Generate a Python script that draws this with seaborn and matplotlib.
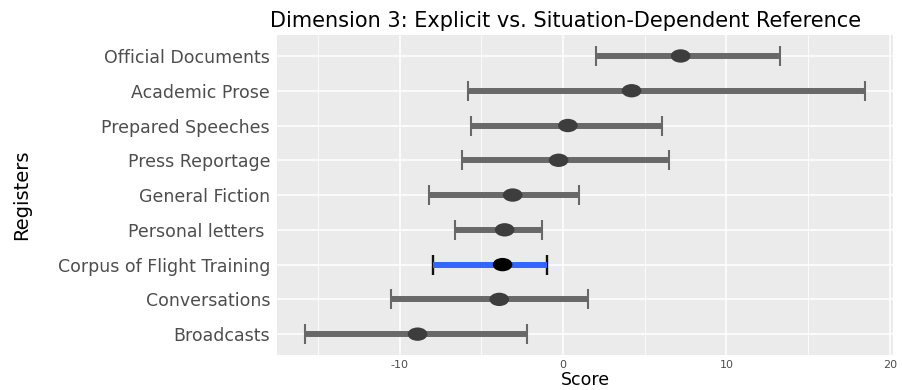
import numpy as np
import pandas as pd
import matplotlib
matplotlib.use("Agg")
import matplotlib.pyplot as plt
from matplotlib.path import Path
from matplotlib.transforms import Affine2D
import seaborn as sns

# Registers listed bottom to top, with mean score and range
registers = ["Broadcasts", "Conversations", "Corpus of Flight Training",
             "Personal letters ", "General Fiction", "Press Reportage",
             "Prepared Speeches", "Academic Prose", "Official Documents"]
means = [-8.9, -3.9, -3.7, -3.57, -3.08, -0.27, 0.3, 4.2, 7.2]
lows = [-15.8, -10.5, -7.96, -6.6, -8.2, -6.2, -5.64, -5.8, 2.04]
highs = [-2.2, 1.55, -1.0, -1.3, 1.0, 6.5, 6.07, 18.5, 13.3]
highlight = "Corpus of Flight Training"

x_ticks = [-10, 0, 10, 20]
x_minor = [-15, -5, 5, 15]

df = pd.DataFrame({"register": registers, "mean": means,
                   "low": lows, "high": highs})
df["focus"] = df["register"] == highlight
df["err_lo"] = df["mean"] - df["low"]
df["err_hi"] = df["high"] - df["mean"]

sns.set_theme(style="darkgrid")
plt.rcParams["font.family"] = ["DejaVu Sans"]

fig = plt.figure(figsize=(9.03, 3.9), dpi=100)
ax = fig.add_axes([0.3068, 0.0897, 0.989 - 0.3068, 0.910 - 0.0897])
ax.set_facecolor("#EBEBEB")

# oval point marker; drawn first so the category order follows the list
oval = Path.unit_circle().transformed(Affine2D().scale(1.0, 0.68))
sns.scatterplot(data=df, x="mean", y="register", hue="focus",
                palette={False: "#3d3d3d", True: "#000000"},
                marker=oval, s=200, linewidth=0, legend=False,
                zorder=5, ax=ax)

# range bars for the reference registers
others = df[~df["focus"]]
ax.errorbar(others["mean"], others["register"],
            xerr=[others["err_lo"], others["err_hi"]], fmt="none",
            ecolor="#686868", elinewidth=4.3, capsize=7, capthick=1.5,
            zorder=3)

# highlighted register: black caps with a blue bar
focus = df[df["focus"]]
ax.errorbar(focus["mean"], focus["register"],
            xerr=[focus["err_lo"], focus["err_hi"]], fmt="none",
            ecolor="#111111", elinewidth=1, capsize=7, capthick=1.7,
            zorder=3)
ax.hlines(focus["register"], focus["low"], focus["high"],
          color="#3366FF", linewidth=4.3, zorder=4)

ax.set_xlim(-17.5, 20.2)
ax.set_ylim(-0.6, len(registers) - 0.4)
ax.set_xticks(x_ticks)
ax.set_xticklabels([str(t) for t in x_ticks])
ax.set_xticks(x_minor, minor=True)

ax.grid(which="major", color="white", linewidth=1.1)
ax.grid(which="minor", axis="x", color="white", linewidth=0.55)
for s in ax.spines.values():
    s.set_visible(False)

ax.tick_params(axis="both", which="major", length=3, width=1,
               color="#333333", direction="out")
ax.tick_params(axis="x", which="minor", length=0)
ax.tick_params(axis="y", labelsize=12.5, labelcolor="#4d4d4d", pad=2)
ax.tick_params(axis="x", labelsize=8, labelcolor="#4d4d4d", pad=0.5)

ax.set_xlabel("Score", fontsize=12.5, color="black", va="top")
ax.xaxis.set_label_coords(0.5, -0.05)
ax.set_ylabel("Registers", fontsize=14, color="black")
ax.yaxis.set_label_coords(-0.40, 0.5)

ax.set_title("Dimension 3: Explicit vs. Situation-Dependent Reference",
             fontsize=15, loc="left", x=-0.012, pad=6, color="black")

fig.savefig("out.png", dpi=100)
